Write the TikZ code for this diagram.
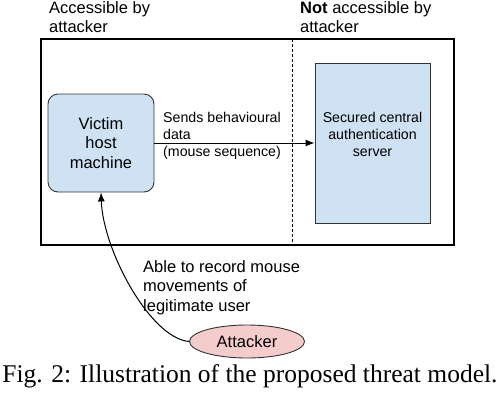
\documentclass[tikz,border=0pt]{standalone}
\usepackage{fontspec}
\setmainfont{Liberation Serif}
\newfontfamily\arialf{Liberation Sans}
\usetikzlibrary{arrows.meta,shapes.geometric}
\definecolor{boxblue}{HTML}{CFE2F3}
\definecolor{boxpink}{HTML}{F4CCCC}
\definecolor{edgegray}{HTML}{333333}
\begin{document}
\begin{tikzpicture}[x=1pt,y=-1pt,
  big/.style={font=\arialf\fontsize{16.5}{19.5}\selectfont},
  small/.style={font=\arialf\fontsize{14.2}{16.8}\selectfont},
  txt/.style={inner sep=0pt},
  arr/.style={line width=1pt,-{Latex[length=9pt,width=7pt]}},
  bluebox/.style={draw=edgegray,line width=0.9pt,fill=boxblue,inner sep=0pt}
]
\useasboundingbox (0,0) rectangle (498,400);
% outer frame
\node[draw=black,line width=1.5pt,minimum width=413pt,minimum height=206pt,inner sep=0pt] (frame) at (247.5,142) {};
\coordinate (dtop) at (292,39);
\coordinate (dbot) at (292,245);
\draw[dashed,line width=0.8pt,dash pattern=on 3pt off 2pt] (dtop) -- (dbot);
% headers
\node[big,txt,anchor=north west,align=left] (h1) at (49,1) {Accessible by\\attacker};
\node[big,txt,anchor=north west,align=left] (h2) at (300,1) {\textbf{Not} accessible by\\attacker};
% victim
\node[bluebox,rounded corners=10pt,minimum width=106pt,minimum height=98pt,big,align=center] (vic) at (101,143) {Victim\\host\\machine};
% server
\node[bluebox,minimum width=115pt,minimum height=160pt] (srv) at (372.5,143) {};
\node[small,txt,align=center,anchor=north] (srvtxt) at (372.5,112) {Secured central\\authentication\\server};
% arrow
\draw[arr] (vic.east) -- (srv.west);
\node[small,txt,anchor=north west,align=left] (sends) at (163,112) {Sends behavioural\\data\\(mouse sequence)};
% attacker
\node[ellipse,draw=edgegray,line width=0.9pt,fill=boxpink,minimum width=115pt,minimum height=33pt,inner sep=0pt,big] (att) at (247,341.5) {Attacker};
\draw[arr] (att.west) .. controls (150,338) and (103,250) .. (vic.south);
\node[big,txt,anchor=north west,align=left] (able) at (143,260) {Able to record mouse\\movements of\\legitimate user};
% caption
\node[txt,anchor=base,font=\fontsize{25.5}{30}\selectfont] (cap) at (250,382) {Fig. 2: Illustration of the proposed threat model.};
\end{tikzpicture}
\end{document}
